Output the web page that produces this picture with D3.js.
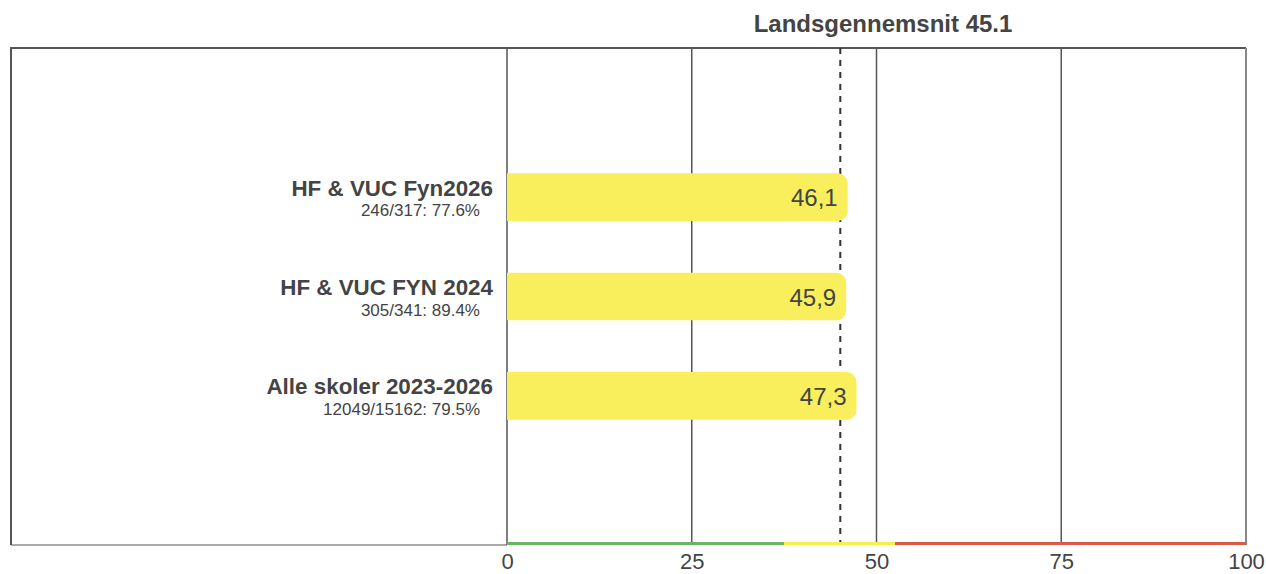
<!DOCTYPE html>
<html lang="en">
  <head>
    <meta charset="utf-8" />
    <title>Landsgennemsnit</title>
    <script src="https://cdnjs.cloudflare.com/ajax/libs/d3/7.8.5/d3.min.js"></script>
    <style>
      body { margin: 0; background: #fff; }
      text { font-family: "Liberation Sans", Arial, sans-serif; fill: #444; }
    </style>
  </head>
  <body>
    <script>
      // data
      const categories = ["HF & VUC Fyn2026", "HF & VUC FYN 2024", "Alle skoler 2023-2026"];
      const subLabels = ["246/317: 77.6%", "305/341: 89.4%", "12049/15162: 79.5%"];
      const values = [46.1, 45.9, 47.3];
      const average = 45.1;
      const ticks = [0, 25, 50, 75, 100];
      const zones = [
        {from: 0, to: 37.5, color: "#6ab564"},
        {from: 37.5, to: 52.5, color: "#f9ee4e"},
        {from: 52.5, to: 100, color: "#d9584a"}
      ];

      const width = 1266;
      const height = 574;
      const frameLeft = 11;
      const marginTop = 48;
      const plotBottom = 545;
      const plotLeft = 507;
      const plotRight = 1246;

      const svg = d3.select("body").append("svg")
        .attr("width", width)
        .attr("height", height);

      const x = d3.scaleLinear().domain([0, 100]).range([plotLeft, plotRight]);

      const slot = (plotBottom - marginTop) / 5;
      const y = d3.scaleBand()
        .domain(categories)
        .range([marginTop + slot, plotBottom - slot])
        .paddingInner(0.52)
        .paddingOuter(0.26);

      // frame
      svg.append("path")
        .attr("d", `M${frameLeft},${plotBottom}V${marginTop}H${plotRight}`)
        .attr("fill", "none")
        .attr("stroke", "#555")
        .attr("stroke-width", 2);
      svg.append("line")
        .attr("x1", frameLeft).attr("x2", plotLeft)
        .attr("y1", plotBottom).attr("y2", plotBottom)
        .attr("stroke", "#555").attr("stroke-width", 1);
      svg.append("line")
        .attr("x1", plotRight).attr("x2", plotRight)
        .attr("y1", marginTop).attr("y2", plotBottom)
        .attr("stroke", "#888").attr("stroke-width", 2);

      // grid lines
      svg.append("g")
        .selectAll("line")
        .data(ticks.slice(0, -1))
        .join("line")
        .attr("x1", d => x(d)).attr("x2", d => x(d))
        .attr("y1", marginTop).attr("y2", plotBottom)
        .attr("stroke", "#555")
        .attr("stroke-width", 1.5);

      // average line (behind the bars)
      svg.append("line")
        .attr("x1", x(average)).attr("x2", x(average))
        .attr("y1", marginTop).attr("y2", plotBottom)
        .attr("stroke", "#333")
        .attr("stroke-width", 2)
        .attr("stroke-dasharray", "6,6");

      // bars, rounded on the right end
      const r = 10;
      const h = y.bandwidth();
      svg.append("g")
        .selectAll("path")
        .data(categories)
        .join("path")
        .attr("fill", "#f9ee5c")
        .attr("d", (d, i) => {
          const x0 = x(0), x1 = x(values[i]), y0 = y(d);
          return `M${x0},${y0}H${x1 - r}A${r},${r} 0 0 1 ${x1},${y0 + r}V${y0 + h - r}A${r},${r} 0 0 1 ${x1 - r},${y0 + h}H${x0}Z`;
        });

      // value labels
      svg.append("g")
        .selectAll("text")
        .data(categories)
        .join("text")
        .attr("x", (d, i) => x(values[i]) - 10)
        .attr("y", d => y(d) + h / 2 + 9)
        .attr("text-anchor", "end")
        .attr("font-size", 24)
        .text((d, i) => values[i].toFixed(1).replace(".", ","));

      // category labels
      const labels = svg.append("g")
        .selectAll("g")
        .data(categories)
        .join("g");
      labels.append("text")
        .attr("x", 493)
        .attr("y", d => y(d) + h / 2 - 1.5)
        .attr("text-anchor", "end")
        .attr("font-size", 22.4)
        .attr("font-weight", "bold")
        .text(d => d);
      labels.append("text")
        .attr("x", 480)
        .attr("y", d => y(d) + h / 2 + 19)
        .attr("text-anchor", "end")
        .attr("font-size", 17)
        .text((d, i) => subLabels[i]);

      svg.append("text")
        .attr("x", 883)
        .attr("y", 32)
        .attr("text-anchor", "middle")
        .attr("font-size", 24)
        .attr("font-weight", "bold")
        .text(`Landsgennemsnit ${average}`);

      // colour zones on the axis
      svg.append("g")
        .selectAll("rect")
        .data(zones)
        .join("rect")
        .attr("x", d => x(d.from))
        .attr("width", d => x(d.to) - x(d.from))
        .attr("y", plotBottom - 3)
        .attr("height", 3)
        .attr("fill", d => d.color);

      // axis
      const axis = svg.append("g")
        .attr("transform", `translate(0,${plotBottom})`)
        .call(d3.axisBottom(x).tickValues(ticks).tickSize(0).tickPadding(8));
      axis.select(".domain").remove();
      axis.selectAll("text")
        .attr("font-size", 22)
        .attr("font-family", "Liberation Sans, Arial, sans-serif")
        .attr("fill", "#444");
    </script>
  </body>
</html>
